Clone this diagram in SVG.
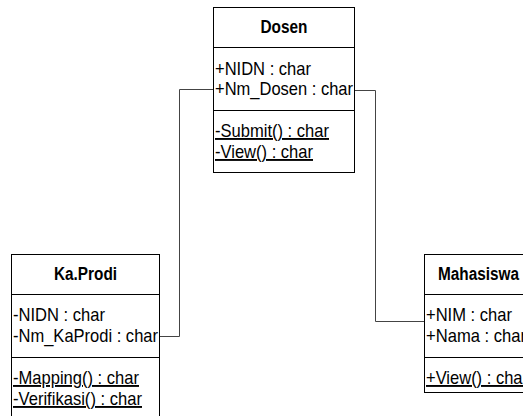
<svg xmlns="http://www.w3.org/2000/svg" width="523" height="416" viewBox="0 0 523 416">
<style>
.box{fill:#fff;stroke:#000;stroke-width:1}
.div{stroke:#000;stroke-width:1}
.t{font-family:"Liberation Sans",Arial,sans-serif;font-size:19px;fill:#000}
.h{font-family:"Liberation Sans",Arial,sans-serif;font-size:18px;font-weight:bold;fill:#000;text-anchor:middle}
.u{text-decoration:underline}
.c{fill:none;stroke:#444;stroke-width:1}
</style>
<rect width="523" height="416" fill="#fff"/>
<g id="connectors">
<polyline class="c" points="213,89.5 179.5,89.5 179.5,336.5 159,336.5"/>
<polyline class="c" points="355,90.5 375.5,90.5 375.5,321.5 424,321.5"/>
</g>
<g id="Dosen">
<rect class="box" x="213.5" y="7.5" width="141" height="165"/>
<line class="div" x1="213.5" y1="47.5" x2="354.5" y2="47.5"/>
<line class="div" x1="213.5" y1="110.5" x2="354.5" y2="110.5"/>
<text class="h" x="284" y="33" textLength="47" lengthAdjust="spacingAndGlyphs">Dosen</text>
<text class="t" x="215" y="75" textLength="96" lengthAdjust="spacingAndGlyphs">+NIDN : char</text>
<text class="t" x="215" y="95" textLength="138" lengthAdjust="spacingAndGlyphs">+Nm_Dosen : char</text>
<text class="t u" x="215" y="137" textLength="114" lengthAdjust="spacingAndGlyphs">-Submit() : char</text>
<text class="t u" x="215" y="158" textLength="98" lengthAdjust="spacingAndGlyphs">-View() : char</text>
</g>
<g id="KaProdi">
<rect class="box" x="11.5" y="254.5" width="148" height="170"/>
<line class="div" x1="11.5" y1="294.5" x2="159.5" y2="294.5"/>
<line class="div" x1="11.5" y1="357.5" x2="159.5" y2="357.5"/>
<text class="h" x="85.5" y="280" textLength="63" lengthAdjust="spacingAndGlyphs">Ka.Prodi</text>
<text class="t" x="13" y="321" textLength="92" lengthAdjust="spacingAndGlyphs">-NIDN : char</text>
<text class="t" x="13" y="342" textLength="145" lengthAdjust="spacingAndGlyphs">-Nm_KaProdi : char</text>
<text class="t u" x="13" y="384" textLength="126" lengthAdjust="spacingAndGlyphs">-Mapping() : char</text>
<text class="t u" x="13" y="405" textLength="129" lengthAdjust="spacingAndGlyphs">-Verifikasi() : char</text>
</g>
<g id="Mahasiswa">
<rect class="box" x="424.5" y="254.5" width="110" height="138"/>
<line class="div" x1="424.5" y1="294.5" x2="534.5" y2="294.5"/>
<line class="div" x1="424.5" y1="357.5" x2="534.5" y2="357.5"/>
<text class="h" x="478.5" y="280" textLength="81" lengthAdjust="spacingAndGlyphs">Mahasiswa</text>
<text class="t" x="426" y="321" textLength="86" lengthAdjust="spacingAndGlyphs">+NIM : char</text>
<text class="t" x="426" y="342" textLength="100" lengthAdjust="spacingAndGlyphs">+Nama : char</text>
<text class="t u" x="426" y="384" textLength="102" lengthAdjust="spacingAndGlyphs">+View() : char</text>
</g>
</svg>
